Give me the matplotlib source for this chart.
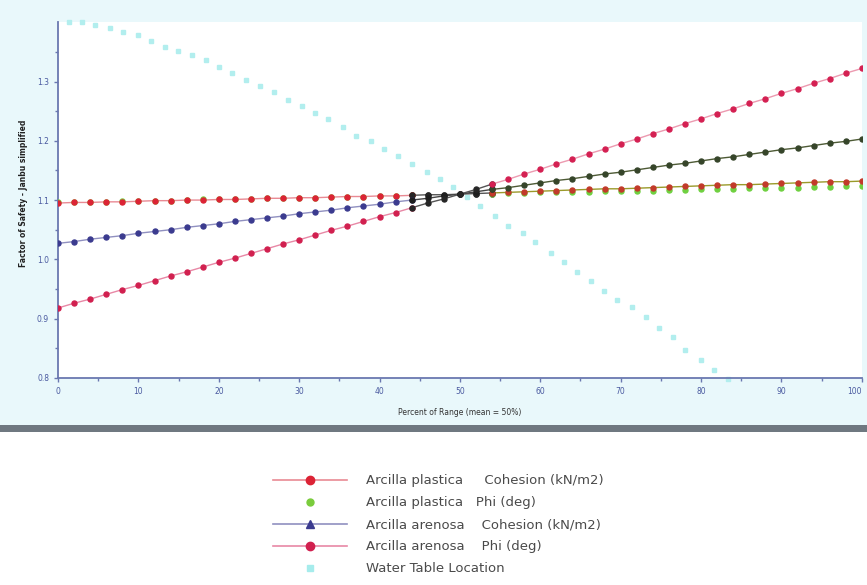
import numpy as np
import matplotlib
matplotlib.use('Agg')
import matplotlib.pyplot as plt
from matplotlib.lines import Line2D
from matplotlib.patches import Rectangle

# percent of range (x), sampled every 2 %
pct = list(range(0, 101, 2))

# factor of safety, one value per 2 %
plastica_cohesion = [1.095, 1.096, 1.096, 1.097, 1.097, 1.098, 1.099, 1.099, 1.100, 1.100,
                     1.101, 1.101, 1.102, 1.103, 1.103, 1.104, 1.104, 1.105, 1.106, 1.106,
                     1.107, 1.107, 1.108, 1.109, 1.109, 1.110,
                     1.111, 1.112, 1.113, 1.114, 1.115, 1.116, 1.117, 1.118, 1.119, 1.119,
                     1.120, 1.121, 1.122, 1.123, 1.124, 1.125, 1.126, 1.126, 1.127, 1.128,
                     1.129, 1.130, 1.131, 1.131, 1.132]
plastica_phi = [1.096, 1.096, 1.097, 1.097, 1.098, 1.098, 1.099, 1.099, 1.100, 1.101,
                1.101, 1.102, 1.102, 1.103, 1.103, 1.104, 1.104, 1.105, 1.106, 1.106,
                1.107, 1.107, 1.108, 1.109, 1.109, 1.110,
                1.110, 1.111, 1.112, 1.112, 1.113, 1.113, 1.114, 1.114, 1.115, 1.115,
                1.116, 1.116, 1.117, 1.117, 1.118, 1.118, 1.119, 1.120, 1.120, 1.121,
                1.121, 1.122, 1.122, 1.123, 1.124]
arenosa_cohesion = [1.027, 1.030, 1.034, 1.037, 1.040, 1.044, 1.047, 1.050, 1.054, 1.057,
                    1.060, 1.064, 1.067, 1.070, 1.073, 1.077, 1.080, 1.083, 1.087, 1.090,
                    1.093, 1.097, 1.100, 1.103, 1.107, 1.110,
                    1.114, 1.118, 1.121, 1.125, 1.129, 1.133, 1.136, 1.140, 1.144, 1.147,
                    1.151, 1.155, 1.159, 1.162, 1.166, 1.170, 1.173, 1.177, 1.181, 1.185,
                    1.188, 1.192, 1.196, 1.199, 1.203]
arenosa_phi = [0.918, 0.926, 0.933, 0.941, 0.949, 0.956, 0.964, 0.972, 0.979, 0.987,
               0.995, 1.002, 1.010, 1.018, 1.026, 1.033, 1.041, 1.049, 1.056, 1.064,
               1.072, 1.079, 1.087, 1.095, 1.102, 1.110,
               1.118, 1.127, 1.135, 1.144, 1.152, 1.161, 1.169, 1.178, 1.186, 1.195,
               1.203, 1.212, 1.220, 1.229, 1.237, 1.246, 1.254, 1.263, 1.271, 1.280,
               1.288, 1.297, 1.305, 1.314, 1.322]

# water table location (own sampling)
wt_x = [1.4, 3.0, 4.6, 6.4, 8.1, 9.9, 11.5, 13.3, 14.9, 16.6, 18.4, 20.0, 21.6, 23.4,
        25.1, 26.9, 28.6, 30.3, 32.0, 33.6, 35.4, 37.1, 38.9, 40.6, 42.3, 44.0, 45.9,
        47.5, 49.1, 50.9, 52.5, 54.4, 56.0, 57.8, 59.4, 61.3, 62.9, 64.6, 66.3, 67.9,
        69.6, 71.4, 73.1, 74.8, 76.5, 78.0, 80.0, 81.6, 83.4]
wt_y = [1.400, 1.400, 1.395, 1.390, 1.383, 1.378, 1.368, 1.359, 1.351, 1.344, 1.337,
        1.324, 1.315, 1.303, 1.293, 1.283, 1.269, 1.259, 1.247, 1.236, 1.224, 1.208,
        1.200, 1.186, 1.175, 1.161, 1.147, 1.136, 1.122, 1.105, 1.090, 1.073, 1.056,
        1.044, 1.029, 1.010, 0.995, 0.978, 0.963, 0.947, 0.932, 0.919, 0.903, 0.885,
        0.869, 0.847, 0.831, 0.814, 0.798]

labels = ['Arcilla plastica     Cohesion (kN/m2)',
          'Arcilla plastica   Phi (deg)',
          'Arcilla arenosa    Cohesion (kN/m2)',
          'Arcilla arenosa    Phi (deg)',
          'Water Table Location']

# the scan shifts colours: left part, middle blob, right part
# (marker colour, line colour) per segment, None line = markers only
styles = [
    [('#dc2335', '#e98a94'), ('#262626', '#555555'), ('#c23a2a', '#9a9a2a')],
    [('#7acc3c', None), ('#262626', None), ('#6fd040', None)],
    [('#3b3b8f', '#9090c0'), ('#1e1e1e', '#444444'), ('#36452a', '#4d5a35')],
    [('#d1204f', '#e888a6'), ('#262626', '#555555'), ('#d42052', '#ec9ab0')],
]
cuts = [(0, 23), (22, 28), (27, 51)]
order = [1, 0, 2, 3]
series = [plastica_cohesion, plastica_phi, arenosa_cohesion, arenosa_phi]

fig = plt.figure(figsize=(8.67, 5.85), dpi=100)
fig.patch.set_facecolor('white')
fig.patches.append(Rectangle((0, 0.274), 1, 0.726, transform=fig.transFigure,
                             facecolor='#e9f8fb', edgecolor='none', zorder=-10))
fig.patches.append(Rectangle((0, 0.262), 1, 0.012, transform=fig.transFigure,
                             facecolor='#6f7880', edgecolor='none', zorder=-10))

ax = fig.add_axes([0.067, 0.354, 0.927, 0.608])
ax.set_facecolor('white')

for i in order:
    y = series[i]
    for (a, b), (mc, lc) in zip(cuts, styles[i]):
        if lc is not None:
            ax.plot(pct[a:b], y[a:b], '-', color=lc, lw=1.0, zorder=3)
        ax.plot(pct[a:b], y[a:b], 'o', color=mc, ms=3.6, mec=mc, zorder=4)

ax.plot(wt_x, wt_y, 's', color='#b2eeee', ms=2.9, mec='#b2eeee', zorder=2, clip_on=False)

ax.set_xlim(0, 100)
ax.set_ylim(0.8, 1.4)
ax.set_xticks(range(0, 101, 10))
ax.set_xticks(range(0, 101, 5), minor=True)
ax.set_yticks([0.8, 0.9, 1.0, 1.1, 1.2, 1.3])
ax.set_yticks(np.arange(0.85, 1.4, 0.1), minor=True)
ax.set_yticklabels(['0.8', '0.9', '1.0', '1.1', '1.2', '1.3'])

for s in ['top', 'right']:
    ax.spines[s].set_visible(False)
for s in ['left', 'bottom']:
    ax.spines[s].set_color('#6a78b0')
    ax.spines[s].set_linewidth(1.3)
ax.tick_params(which='both', color='#6a78b0', labelcolor='#4a5aa0',
               labelsize=5.5, length=3, width=1, direction='out')
ax.tick_params(which='minor', length=2)
ax.get_xticklabels()[-1].set_horizontalalignment('right')

ax.set_xlabel('Percent of Range (mean = 50%)', fontsize=5.5, color='#333333', labelpad=9)
ax.set_ylabel('Factor of Safety - Janbu simplified', fontsize=5.5, color='#222222',
              fontweight='bold')
ax.yaxis.set_label_coords(-0.037, 0.52)

handles = [
    Line2D([], [], color='#e98a94', lw=1.2, marker='o', ms=6, mfc='#dc2335', mec='#dc2335'),
    Line2D([], [], ls='none', marker='o', ms=5, mfc='#7acc3c', mec='#7acc3c'),
    Line2D([], [], color='#9090c0', lw=1.2, marker='^', ms=6, mfc='#3b3b8f', mec='#3b3b8f'),
    Line2D([], [], color='#e888a6', lw=1.2, marker='o', ms=6, mfc='#d1204f', mec='#d1204f'),
    Line2D([], [], ls='none', marker='s', ms=4.5, mfc='#a6ecec', mec='#a6ecec'),
]
leg = fig.legend(handles, labels, loc='center left', bbox_to_anchor=(0.307, 0.103),
                 frameon=False, fontsize=9.5, handlelength=5.6, handletextpad=1.5,
                 labelspacing=0.68, borderpad=0)
for t in leg.get_texts():
    t.set_color('#4a4a4a')

fig.savefig('out.png', dpi=100, facecolor=fig.get_facecolor())
